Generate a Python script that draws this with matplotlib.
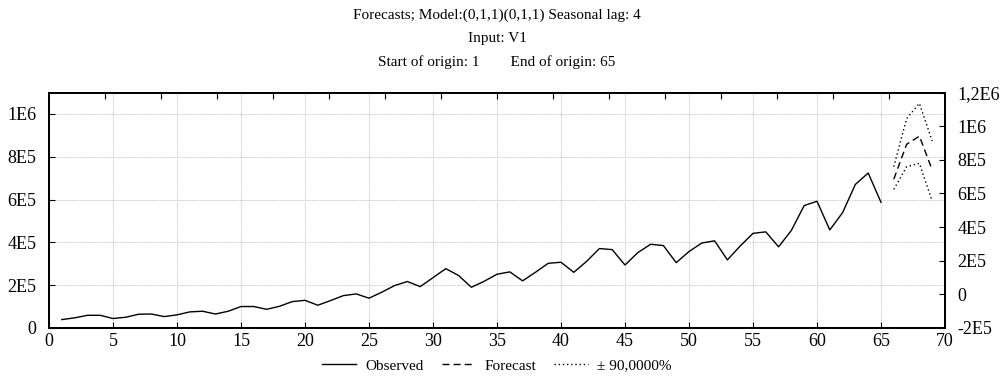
import numpy as np
import matplotlib.pyplot as plt

plt.rcParams['font.family'] = ['Liberation Serif', 'DejaVu Serif']

# observed series (left axis)
obs_x = np.arange(1, 66)
observed = [39e3, 47e3, 59e3, 59e3, 44e3, 50e3, 64e3, 65e3, 53e3, 61e3,
            75e3, 78e3, 65e3, 78e3, 100e3, 100e3, 87e3, 101e3, 123e3, 129e3,
            106e3, 128e3, 151e3, 159e3, 139e3, 167e3, 198e3, 217e3, 193e3, 235e3,
            277e3, 245e3, 190e3, 218e3, 251e3, 262e3, 220e3, 260e3, 302e3, 307e3,
            260e3, 311e3, 371e3, 366e3, 294e3, 352e3, 391e3, 385e3, 305e3, 357e3,
            397e3, 407e3, 318e3, 383e3, 442e3, 449e3, 379e3, 456e3, 572e3, 592e3,
            458e3, 539e3, 671e3, 724e3, 587e3]

# forecasts (right axis)
fc_x = [66, 67, 68, 69]
forecast = [685e3, 892e3, 941e3, 740e3]
upper = [759e3, 1045e3, 1136e3, 912e3]
lower = [624e3, 759e3, 779e3, 554e3]

left_ticks = [0, 2e5, 4e5, 6e5, 8e5, 1e6]
left_labels = ['0', '2E5', '4E5', '6E5', '8E5', '1E6']
right_ticks = [-2e5, 0, 2e5, 4e5, 6e5, 8e5, 1e6, 1.2e6]
right_labels = ['-2E5', '0', '2E5', '4E5', '6E5', '8E5', '1E6', '1,2E6']

fig = plt.figure(figsize=(10, 3.89), dpi=100)
ax = fig.add_axes([0.049, 0.157, 0.896, 0.605])

ax.plot(obs_x, observed, color='black', lw=1.0)
ax.set_xlim(0, 70)
ax.set_ylim(0, 1.1e6)
ax.set_xticks(range(0, 71, 5))
ax.set_yticks(left_ticks)
ax.set_yticklabels(left_labels)
ax.grid(True, color='#c8c8c8', linestyle=(0, (2, 1)), lw=0.6)
ax.tick_params(direction='in', length=4, labelsize=13, width=0.8)
ax.tick_params(axis='y', pad=9)
ax.tick_params(axis='x', pad=4)

ax2 = ax.twinx()
ax2.plot(fc_x, forecast, color='black', lw=1.0, linestyle=(0, (5, 3)))
ax2.plot(fc_x, upper, color='black', lw=1.0, linestyle=(0, (1, 2)))
ax2.plot(fc_x, lower, color='black', lw=1.0, linestyle=(0, (1, 2)))
ax2.set_ylim(-2e5, 1.2e6)
ax2.set_yticks(right_ticks)
ax2.set_yticklabels(right_labels)
ax2.tick_params(direction='in', length=4, labelsize=13, width=0.8, pad=9)

# top edge ticks
ax3 = ax.twiny()
ax3.set_xlim(0, 16)
ax3.set_xticks(range(1, 16))
ax3.set_xticklabels([])
ax3.tick_params(direction='in', length=4, width=0.8)

for a in (ax, ax2, ax3):
    for s in a.spines.values():
        s.set_linewidth(1.2)

fig.text(0.497, 0.962, 'Forecasts; Model:(0,1,1)(0,1,1) Seasonal lag: 4',
         ha='center', va='center', fontsize=11)
fig.text(0.497, 0.900, 'Input: V1', ha='center', va='center', fontsize=11)
fig.text(0.497, 0.840, 'Start of origin: 1        End of origin: 65',
         ha='center', va='center', fontsize=11)

h1, = ax.plot([], [], color='black', lw=1.0, label='Observed')
h2, = ax.plot([], [], color='black', lw=1.0, linestyle=(0, (5, 3)), label='Forecast')
h3, = ax.plot([], [], color='black', lw=1.0, linestyle=(0, (1, 2)), label='± 90,0000%')
fig.legend(handles=[h1, h2, h3], loc='center', bbox_to_anchor=(0.497, 0.06),
           ncol=3, frameon=False, fontsize=11, handlelength=2.2,
           columnspacing=1.2, handletextpad=0.6)

fig.savefig('out.png', dpi=100)
